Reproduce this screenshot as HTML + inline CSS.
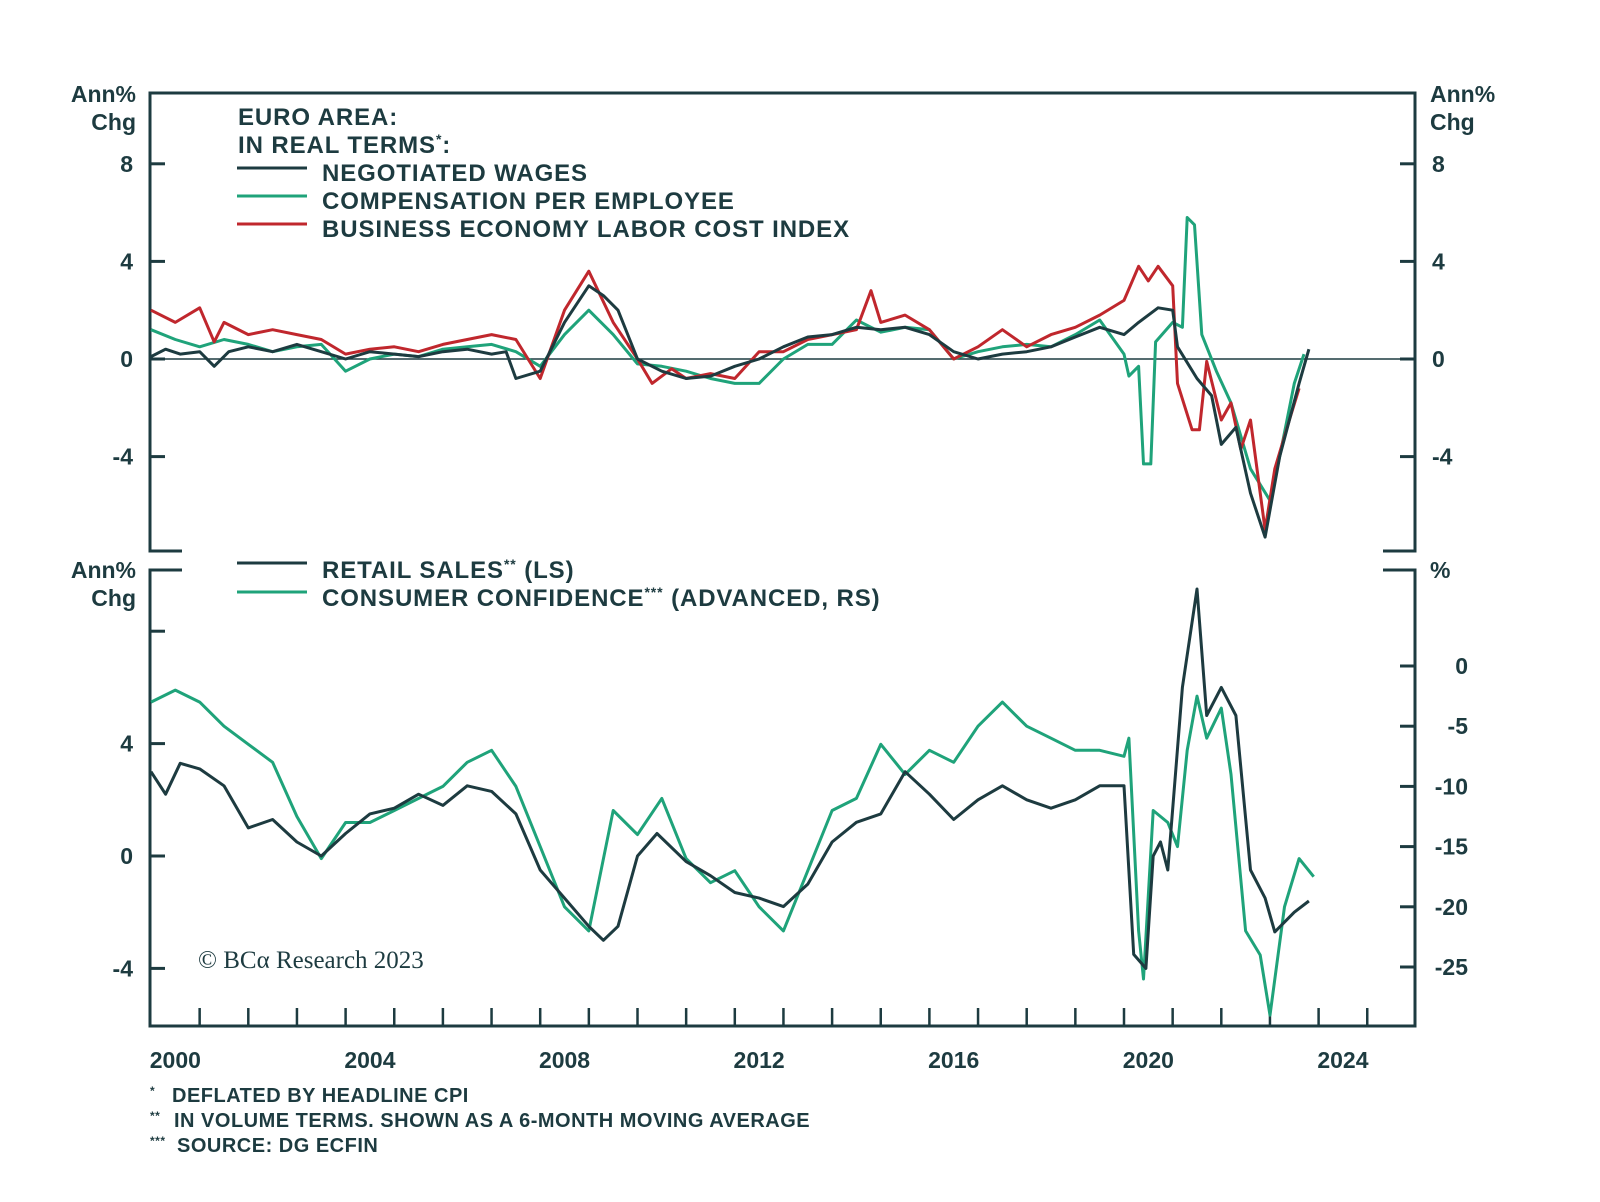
<!DOCTYPE html>
<html><head><meta charset="utf-8"><style>
html,body{margin:0;padding:0;background:#fff}
svg{display:block}
text{font-family:"Liberation Sans",sans-serif;font-weight:bold;fill:#1d3b40}
</style></head><body>
<svg id="chart" width="1600" height="1202" viewBox="0 0 1600 1202" xmlns="http://www.w3.org/2000/svg">
<g id="frame" stroke="#1d3b40" stroke-width="3" fill="none">
  <path d="M182,551 H150 V93 H1415 V551 H1383"/>
  <path d="M182,570 H150 V1026 H1415 V570 H1383"/>
</g>
<g id="axes"></g>
<g id="series"></g>
<g font-size="24" letter-spacing="0.9">
  <text x="238" y="125">EURO AREA:</text>
  <text x="238" y="153">IN REAL TERMS<tspan font-size="14" dy="-9">*</tspan><tspan dy="9">:</tspan></text>
  <line x1="237" y1="168" x2="307" y2="168" stroke="#1d3b40" stroke-width="3"/>
  <text x="322" y="181">NEGOTIATED WAGES</text>
  <line x1="237" y1="196" x2="307" y2="196" stroke="#1fa37a" stroke-width="3"/>
  <text x="322" y="209">COMPENSATION PER EMPLOYEE</text>
  <line x1="237" y1="224" x2="307" y2="224" stroke="#c0272d" stroke-width="3"/>
  <text x="322" y="237">BUSINESS ECONOMY LABOR COST INDEX</text>
</g>
<g font-size="24" letter-spacing="0.9">
  <line x1="237" y1="563" x2="307" y2="563" stroke="#1d3b40" stroke-width="3"/>
  <text x="322" y="578">RETAIL SALES<tspan font-size="14" dy="-9">**</tspan><tspan dy="9"> (LS)</tspan></text>
  <line x1="237" y1="592" x2="307" y2="592" stroke="#1fa37a" stroke-width="3"/>
  <text x="322" y="606">CONSUMER CONFIDENCE<tspan font-size="14" dy="-9">***</tspan><tspan dy="9"> (ADVANCED, RS)</tspan></text>
</g>
<g font-size="23">
  <text x="136" y="102" text-anchor="end">Ann%</text>
  <text x="136" y="130" text-anchor="end">Chg</text>
  <text x="1430" y="102">Ann%</text>
  <text x="1430" y="130">Chg</text>
  <text x="136" y="578" text-anchor="end">Ann%</text>
  <text x="136" y="606" text-anchor="end">Chg</text>
  <text x="1430" y="578">%</text>
</g>
<text x="198" y="968" font-size="25" style="font-family:'Liberation Serif',serif;font-weight:normal">© BCα Research 2023</text>
<g font-size="20" letter-spacing="0.5">
  <text x="150" y="1102"><tspan font-size="12" dy="-7">*</tspan><tspan dy="7" x="172">DEFLATED BY HEADLINE CPI</tspan></text>
  <text x="150" y="1127"><tspan font-size="12" dy="-7">**</tspan><tspan dy="7" x="174">IN VOLUME TERMS. SHOWN AS A 6-MONTH MOVING AVERAGE</tspan></text>
  <text x="150" y="1152"><tspan font-size="12" dy="-7">***</tspan><tspan dy="7" x="177">SOURCE: DG ECFIN</tspan></text>
</g>
</svg>
<script>
const topTicks=[8,4,0,-4];
const bottomLeftTicks=[4,0,-4];
const bottomLeftMinor=[8];
const bottomRightTicks=[0,-5,-10,-15,-20,-25];
const yearLabels=[2000,2004,2008,2012,2016,2020,2024];
const wagesT=[2000,2000.3,2000.6,2001,2001.3,2001.6,2002,2002.5,2003,2003.5,2004,2004.5,2005,2005.5,2006,2006.5,2007,2007.3,2007.5,2008,2008.5,2009,2009.3,2009.6,2010,2010.5,2011,2011.5,2012,2012.5,2013,2013.5,2014,2014.5,2015,2015.5,2016,2016.5,2017,2017.5,2018,2018.5,2019,2019.5,2020,2020.3,2020.7,2021,2021.1,2021.5,2021.8,2022,2022.3,2022.6,2022.9,2023.2,2023.6,2023.8];
const wagesV=[0.1,0.4,0.2,0.3,-0.3,0.3,0.5,0.3,0.6,0.3,0.0,0.3,0.2,0.1,0.3,0.4,0.2,0.3,-0.8,-0.5,1.5,3.0,2.6,2.0,0,-0.5,-0.8,-0.7,-0.3,0,0.5,0.9,1.0,1.3,1.2,1.3,1.0,0.3,0,0.2,0.3,0.5,0.9,1.3,1.0,1.5,2.1,2.0,0.5,-0.8,-1.5,-3.5,-2.8,-5.5,-7.3,-4,-1,0.4];
const compT=[2000,2000.5,2001,2001.5,2002,2002.5,2003,2003.5,2004,2004.5,2005,2005.5,2006,2006.5,2007,2007.5,2008,2008.5,2009,2009.5,2010,2010.5,2011,2011.5,2012,2012.5,2013,2013.5,2014,2014.5,2015,2015.5,2016,2016.5,2017,2017.5,2018,2018.5,2019,2019.5,2020,2020.1,2020.3,2020.4,2020.55,2020.65,2021,2021.2,2021.3,2021.45,2021.6,2021.9,2022.2,2022.6,2023,2023.2,2023.5,2023.7];
const compV=[1.2,0.8,0.5,0.8,0.6,0.3,0.5,0.6,-0.5,0.0,0.2,0.1,0.4,0.5,0.6,0.3,-0.3,1.0,2.0,1.0,-0.2,-0.3,-0.5,-0.8,-1.0,-1.0,0,0.6,0.6,1.6,1.1,1.3,1.2,0,0.3,0.5,0.6,0.5,1.0,1.6,0.2,-0.7,-0.3,-4.3,-4.3,0.7,1.5,1.3,5.8,5.5,1.0,-0.5,-1.8,-4.5,-5.8,-4,-1,0.2];
const laborT=[2000,2000.5,2001,2001.3,2001.5,2002,2002.5,2003,2003.5,2004,2004.5,2005,2005.5,2006,2006.5,2007,2007.5,2008,2008.5,2009,2009.5,2010,2010.3,2010.7,2011,2011.5,2012,2012.5,2013,2013.5,2014,2014.5,2014.8,2015,2015.5,2016,2016.5,2017,2017.5,2018,2018.5,2019,2019.5,2020,2020.3,2020.5,2020.7,2021,2021.1,2021.4,2021.55,2021.7,2022,2022.2,2022.4,2022.6,2022.9,2023.1,2023.4,2023.6];
const laborV=[2.0,1.5,2.1,0.7,1.5,1.0,1.2,1.0,0.8,0.2,0.4,0.5,0.3,0.6,0.8,1.0,0.8,-0.8,2.0,3.6,1.5,0,-1.0,-0.4,-0.8,-0.6,-0.8,0.3,0.3,0.8,1.0,1.2,2.8,1.5,1.8,1.2,0,0.5,1.2,0.5,1.0,1.3,1.8,2.4,3.8,3.2,3.8,3.0,-1,-2.9,-2.9,-0.1,-2.5,-1.8,-3.7,-2.5,-7.0,-4.5,-2.5,-1.2];
const retailT=[2000,2000.3,2000.6,2001,2001.5,2002,2002.5,2003,2003.5,2004,2004.5,2005,2005.5,2006,2006.5,2007,2007.5,2008,2008.5,2009,2009.3,2009.6,2010,2010.4,2011,2011.5,2012,2012.5,2013,2013.5,2014,2014.5,2015,2015.5,2016,2016.5,2017,2017.5,2018,2018.5,2019,2019.5,2020,2020.2,2020.45,2020.6,2020.75,2020.9,2021.2,2021.5,2021.7,2022,2022.3,2022.6,2022.9,2023.1,2023.5,2023.8];
const retailV=[3.0,2.2,3.3,3.1,2.5,1.0,1.3,0.5,0,0.8,1.5,1.7,2.2,1.8,2.5,2.3,1.5,-0.5,-1.5,-2.5,-3.0,-2.5,0,0.8,-0.2,-0.7,-1.3,-1.5,-1.8,-1.0,0.5,1.2,1.5,3.0,2.2,1.3,2.0,2.5,2.0,1.7,2.0,2.5,2.5,-3.5,-4.0,0,0.5,-0.5,6,9.5,5,6,5,-0.5,-1.5,-2.7,-2.0,-1.6];
const confT=[2000,2000.5,2001,2001.5,2002,2002.5,2003,2003.5,2004,2004.5,2005,2005.5,2006,2006.5,2007,2007.5,2008,2008.5,2009,2009.5,2010,2010.5,2011,2011.5,2012,2012.5,2013,2013.5,2014,2014.5,2015,2015.5,2016,2016.5,2017,2017.5,2018,2018.5,2019,2019.5,2020,2020.1,2020.3,2020.4,2020.6,2020.9,2021.1,2021.3,2021.5,2021.7,2022,2022.2,2022.5,2022.8,2023,2023.3,2023.6,2023.9];
const confV=[-3,-2,-3,-5,-6.5,-8,-12.5,-16,-13,-13,-12,-11,-10,-8,-7,-10,-15,-20,-22,-12,-14,-11,-16,-18,-17,-20,-22,-17,-12,-11,-6.5,-9,-7,-8,-5,-3,-5,-6,-7,-7,-7.5,-6,-22,-26,-12,-13,-15,-7,-2.5,-6,-3.5,-9,-22,-24,-29,-20,-16,-17.5];

const NS='http://www.w3.org/2000/svg';
const xS=t=>151+(t-2000)*48.65;
const yTop=v=>359-v*24.4;
const yBL=v=>856-v*28.1;
const yBR=v=>666-v*12.04;
const axes=document.getElementById('axes');
const series=document.getElementById('series');
function mk(tag,attrs,parent){const e=document.createElementNS(NS,tag);for(const k in attrs)e.setAttribute(k,attrs[k]);parent.appendChild(e);return e;}
function label(x,y,txt,anchor){const t=mk('text',{x:x,y:y,'font-size':23,'text-anchor':anchor},axes);t.textContent=txt;return t;}
topTicks.forEach(v=>{const y=yTop(v);
  const a=mk('line',{x1:150,x2:165,y1:y,y2:y,stroke:'#1d3b40','stroke-width':3},axes);
  
  
  const b=mk('line',{x1:1400,x2:1415,y1:y,y2:y,stroke:'#1d3b40','stroke-width':3},axes);
  
  
  const l=label(133,y+8,String(v),'end');
  
  
  const r=label(1432,y+8,String(v),'start');
  
  
});
const zl=mk('line',{x1:150,x2:1415,y1:yTop(0),y2:yTop(0),stroke:'#1d3b40','stroke-width':1.5},axes);


bottomLeftTicks.concat(bottomLeftMinor).forEach(v=>{const y=yBL(v);
  const a=mk('line',{x1:150,x2:165,y1:y,y2:y,stroke:'#1d3b40','stroke-width':3},axes);
  
  
});
bottomLeftTicks.forEach(v=>{const l=label(133,yBL(v)+8,String(v),'end');
  
  
});
bottomRightTicks.forEach(v=>{const y=yBR(v);
  const a=mk('line',{x1:1400,x2:1415,y1:y,y2:y,stroke:'#1d3b40','stroke-width':3},axes);
  
  
  const r=label(1468,y+8,String(v),'end');
  
  
});
for(let yr=2001;yr<=2025;yr++){const x=xS(yr);
  const t=mk('line',{x1:x,x2:x,y1:1008,y2:1026,stroke:'#1d3b40','stroke-width':2.5},axes);
  
  
}
yearLabels.forEach(yr=>{const l=label(xS(yr+0.5),1068,String(yr),'middle');
  
  
});
function line(T,V,ys,color,name){
  const pts=T.map((t,i)=>xS(t).toFixed(1)+','+ys(V[i]).toFixed(1)).join(' ');
  const p=mk('polyline',{points:pts,fill:'none',stroke:color,'stroke-width':3,'stroke-linejoin':'round'},series);
  
  
}
line(confT,confV,yBR,'#1fa37a','consumer-confidence-line');
line(retailT,retailV,yBL,'#1d3b40','retail-sales-line');
line(compT,compV,yTop,'#1fa37a','compensation-line');
line(laborT,laborV,yTop,'#c0272d','labor-cost-line');
line(wagesT,wagesV,yTop,'#1d3b40','negotiated-wages-line');
</script>
</body></html>
